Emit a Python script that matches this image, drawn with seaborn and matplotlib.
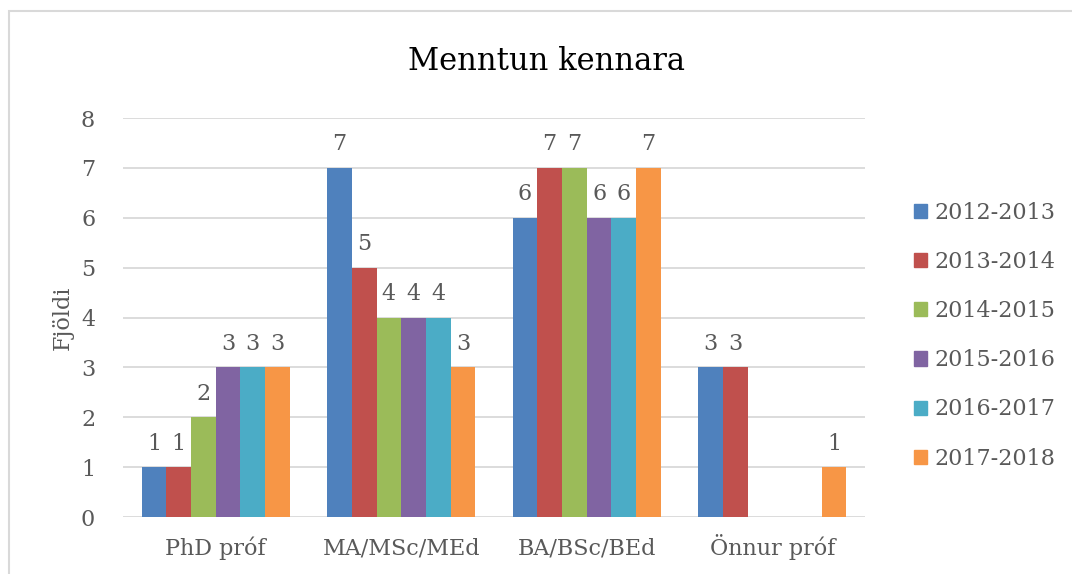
import pandas as pd
import matplotlib.pyplot as plt
import matplotlib.patches as mpatches
import seaborn as sns

# gögn úr myndinni
flokkar = ["PhD próf", "MA/MSc/MEd", "BA/BSc/BEd", "Önnur próf"]
ar = ["2012-2013", "2013-2014", "2014-2015", "2015-2016", "2016-2017", "2017-2018"]
gildi_2012 = [1, 7, 6, 3]
gildi_2013 = [1, 5, 7, 3]
gildi_2014 = [2, 4, 7, None]
gildi_2015 = [3, 4, 6, None]
gildi_2016 = [3, 4, 6, None]
gildi_2017 = [3, 3, 7, 1]
litir = ["#4F81BD", "#C0504D", "#9BBB59", "#8064A2", "#4BACC6", "#F79646"]

rodir = []
for a, vals in zip(ar, [gildi_2012, gildi_2013, gildi_2014, gildi_2015, gildi_2016, gildi_2017]):
    for f, v in zip(flokkar, vals):
        rodir.append({"Flokkur": f, "Ár": a, "Fjöldi": v})
df = pd.DataFrame(rodir).dropna()

sns.set_style("white")
plt.rcParams["font.family"] = ["DejaVu Serif"]
grar = "#595959"

fig = plt.figure(figsize=(10.72, 5.74), dpi=100)
ax = fig.add_axes([123 / 1072, 1 - 517 / 574, 742 / 1072, 399 / 574])

sns.barplot(
    data=df, x="Flokkur", y="Fjöldi", hue="Ár", order=flokkar, hue_order=ar,
    palette=litir, width=0.8, linewidth=0, saturation=1, ax=ax, legend=False,
)

for c in ax.containers:
    ax.bar_label(c, fmt="%.0f", padding=9, fontsize=16, color=grar)

ax.set_xlim(-0.5, 3.5)
ax.set_ylim(0, 8)
ax.set_yticks(range(0, 9))
ax.grid(axis="y", color="#D9D9D9", linewidth=1.3)
ax.set_axisbelow(True)
for s in ax.spines.values():
    s.set_visible(False)
ax.tick_params(axis="both", length=0, labelsize=16, labelcolor=grar)
ax.tick_params(axis="y", pad=20)
ax.tick_params(axis="x", pad=27)
for t in ax.get_xticklabels():
    t.set_va("baseline")
ax.set_xlabel("")
ax.set_ylabel("Fjöldi", fontsize=16, color=grar, labelpad=5)

fig.text(547 / 1072, 1 - 62 / 574, "Menntun kennara", ha="center", va="center",
         fontsize=22, color="#000000")

handles = [mpatches.Patch(color=c, label=a) for c, a in zip(litir, ar)]
fig.legend(handles=handles, loc="upper left", bbox_to_anchor=(894 / 1072, 1 - 182 / 574),
           frameon=False, fontsize=16, labelcolor=grar, handlelength=0.6,
           handleheight=0.6, handletextpad=0.3, labelspacing=1.22)

# rammi utan um myndina
fig.patches.append(mpatches.Rectangle((8.5 / 1072, -0.1), 1.5, 1.1 - 11 / 574,
                                      transform=fig.transFigure, fill=False,
                                      edgecolor="#D9D9D9", linewidth=1.5))

fig.savefig("out.png", dpi=100)
